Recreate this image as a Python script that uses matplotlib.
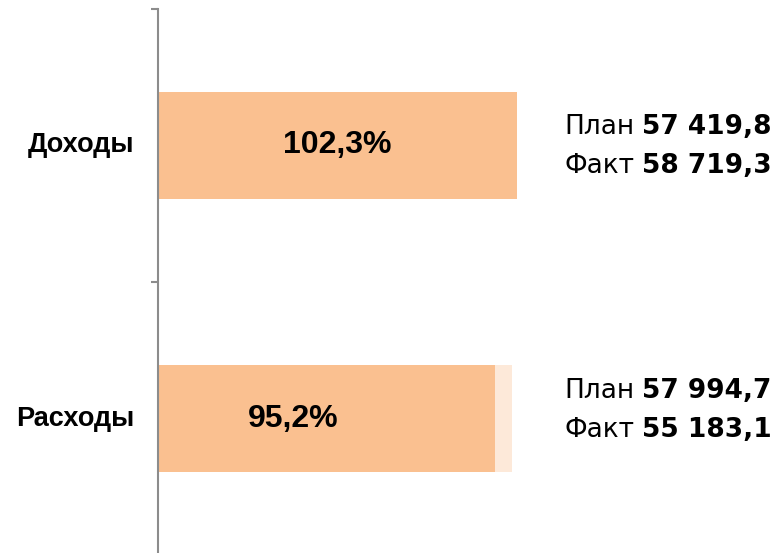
import numpy as np
import matplotlib
matplotlib.use('Agg')
import matplotlib.pyplot as plt

# data
categories = ['Доходы', 'Расходы']
plan = [57419.8, 57994.7]
fact = [58719.3, 55183.1]
pct_labels = ['102,3%', '95,2%']
plan_txt = ['57 419,8', '57 994,7']
fact_txt = ['58 719,3', '55 183,1']

# where the percent label sits along the fact bar (fraction of bar)
pct_pos = [0.5, 0.40]

plan_color = '#FDE9D9'
fact_color = '#FAC090'
axis_color = '#8C8C8C'

W, H = 784, 553
fig = plt.figure(figsize=(W / 100, H / 100), dpi=100)
ax = fig.add_axes([158 / W, -2 / H, 626 / W, 546 / H])

y = np.arange(len(categories))
bar_h = 0.395
ax.barh(y, plan, height=bar_h, color=plan_color, zorder=2)
ax.barh(y, fact, height=bar_h, color=fact_color, zorder=3)

ax.set_xlim(0, 102500)
ax.set_ylim(len(categories) - 0.5, -0.5)

# category boundaries as ticks on the left spine
ax.set_yticks(np.arange(len(categories) + 1) - 0.5)
ax.set_yticklabels([])
ax.tick_params(axis='y', direction='out', length=5, width=1.5, color=axis_color)
ax.set_xticks([])
for s in ['top', 'right', 'bottom']:
    ax.spines[s].set_visible(False)
ax.spines['left'].set_color(axis_color)
ax.spines['left'].set_linewidth(1.5)
ax.spines['left'].set_zorder(5)

for i, cat in enumerate(categories):
    ax.annotate(cat, xy=(0, y[i]), xycoords=('axes fraction', 'data'),
                xytext=(-17, 0), textcoords='offset points',
                ha='right', va='center', fontsize=19.5, fontweight='bold',
                family='Liberation Sans')
    ax.text(fact[i] * pct_pos[i], y[i], pct_labels[i], ha='center', va='center',
            fontsize=23, fontweight='bold', family='Liberation Sans', zorder=6)

# right side plan / fact text, regular word + bold number, centred as a pair
fig.canvas.draw()
r = fig.canvas.get_renderer()
shift_px = [1, -8]
line_px = 39
cx = 668
gap = 8
for i in range(len(categories)):
    yc = ax.transData.transform((0, y[i]))[1] - shift_px[i]
    for k, (word, num) in enumerate([('План', plan_txt[i]), ('Факт', fact_txt[i])]):
        yy = yc + line_px / 2 - k * line_px
        t1 = fig.text(0, yy / H, word, ha='right', va='center', fontsize=19,
                      family='DejaVu Sans')
        t2 = fig.text(0, yy / H, num, ha='left', va='center', fontsize=19,
                      fontweight='bold', family='DejaVu Sans')
        w1 = t1.get_window_extent(r).width
        w2 = t2.get_window_extent(r).width
        xs = cx - (w1 + gap + w2) / 2 + w1
        t1.set_x(xs / W)
        t2.set_x((xs + gap) / W)

fig.savefig('out.png', dpi=100)
